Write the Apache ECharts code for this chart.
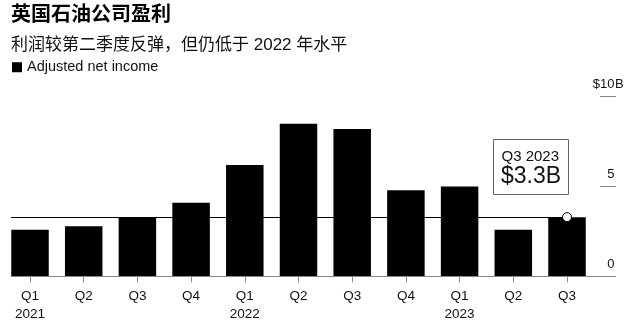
<!DOCTYPE html>
<html>
<head>
<meta charset="utf-8">
<script src="https://cdn.jsdelivr.net/npm/echarts@6/dist/echarts.min.js"></script>
<style>
html,body{margin:0;padding:0;background:#fff;}
#chart{width:641px;height:330px;}
</style>
</head>
<body>
<div id="chart"></div>
<script>
var titleText = '英国石油公司盈利';
var subtitleText = '利润较第二季度反弹，但仍低于 2022 年水平';
var seriesName = 'Adjusted net income';
var quarters = ['Q1','Q2','Q3','Q4','Q1','Q2','Q3','Q4','Q1','Q2','Q3'];
var years = ['2021','','','','2022','','','','2023','',''];
var values = [2.6, 2.8, 3.3, 4.1, 6.2, 8.5, 8.2, 4.8, 5.0, 2.6, 3.3];
var yTicks = [0, 5, 10];
var highlightIndex = 10;
var highlightLabel = 'Q3 2023';

var FONT = "'Liberation Sans', 'Noto Sans CJK SC', sans-serif";
var categories = quarters.map(function (q, i) { return q + (years[i] ? '\n' + years[i] : ''); });
var hv = values[highlightIndex];
var yMax = yTicks[yTicks.length - 1];

var yBase = {
  type: 'value', position: 'right', offset: 22.15, min: 0, max: yMax, interval: 5,
  axisLine: {show: false}, splitLine: {show: false}
};

var chart = echarts.init(document.getElementById('chart'), null, {renderer: 'canvas'});
chart.setOption({
  animation: false,
  backgroundColor: '#fff',
  title: [
    {text: titleText, left: 11, top: 5, padding: 0,
     textStyle: {fontFamily: FONT, fontSize: 20, fontWeight: 'bold', color: '#000', lineHeight: 20}},
    {text: subtitleText, left: 11, top: 36, padding: 0,
     textStyle: {fontFamily: FONT, fontSize: 17, fontWeight: 'normal', color: '#111', lineHeight: 18}}
  ],
  legend: {
    left: 12, top: 60, padding: 0, itemWidth: 10, itemHeight: 10, itemGap: 5,
    icon: 'rect', selectedMode: false,
    textStyle: {fontFamily: FONT, fontSize: 14.5, color: '#111'},
    data: [seriesName]
  },
  grid: {left: 3.15, right: 47.15, top: 96.7, bottom: 53.5, containLabel: false},
  xAxis: {
    type: 'category', data: categories,
    axisLine: {show: false},
    axisTick: {show: true, alignWithLabel: true, length: 6, lineStyle: {color: '#888'}},
    axisLabel: {fontFamily: FONT, fontSize: 13.5, color: '#111', lineHeight: 18, margin: 11, interval: 0}
  },
  yAxis: [
    Object.assign({}, yBase, {
      axisTick: {show: true, inside: true, length: 16, lineStyle: {color: '#888'}},
      axisLabel: {
        inside: true, margin: 1.5, align: 'right', verticalAlign: 'bottom', padding: [0, 0, 6, 0],
        fontFamily: FONT, fontSize: 13, color: '#111',
        formatter: function (v) { return v === yMax ? '$' + v : String(v); }
      }
    }),
    Object.assign({}, yBase, {
      axisTick: {show: false},
      axisLabel: {
        inside: false, margin: -1, align: 'left', verticalAlign: 'bottom', padding: [0, 0, 6, 0],
        fontFamily: FONT, fontSize: 13, color: '#111',
        formatter: function (v) { return v === yMax ? 'B' : ''; }
      }
    })
  ],
  series: [{
    name: seriesName, type: 'bar', data: values, barWidth: 37.5, yAxisIndex: 0,
    itemStyle: {color: '#000'},
    markLine: {
      silent: true, symbol: ['none', 'none'], label: {show: false},
      data: [
        [{x: 11, yAxis: 0, lineStyle: {color: '#888', width: 1, type: 'solid'}}, {x: 615, yAxis: 0}],
        [{x: 11, yAxis: hv, lineStyle: {color: '#000', width: 1, type: 'solid'}}, {coord: [highlightIndex, hv]}]
      ]
    },
    markPoint: {
      silent: true, symbol: 'circle', symbolSize: 9, label: {show: false},
      itemStyle: {color: '#fff', borderColor: '#000', borderWidth: 1},
      data: [{coord: [highlightIndex, hv]}]
    }
  }],
  graphic: [
    {type: 'rect', left: 493, top: 139, shape: {width: 75, height: 55}, z: 10,
     style: {fill: '#fff', stroke: '#666', lineWidth: 1}},
    {type: 'text', left: 501.5, top: 149, z: 11,
     style: {text: highlightLabel, font: '15px ' + FONT, fill: '#111'}},
    {type: 'text', left: 501, top: 165, z: 11,
     style: {text: '$' + hv.toFixed(1) + 'B', font: '23px ' + FONT, fill: '#111'}}
  ]
});
</script>
</body>
</html>
